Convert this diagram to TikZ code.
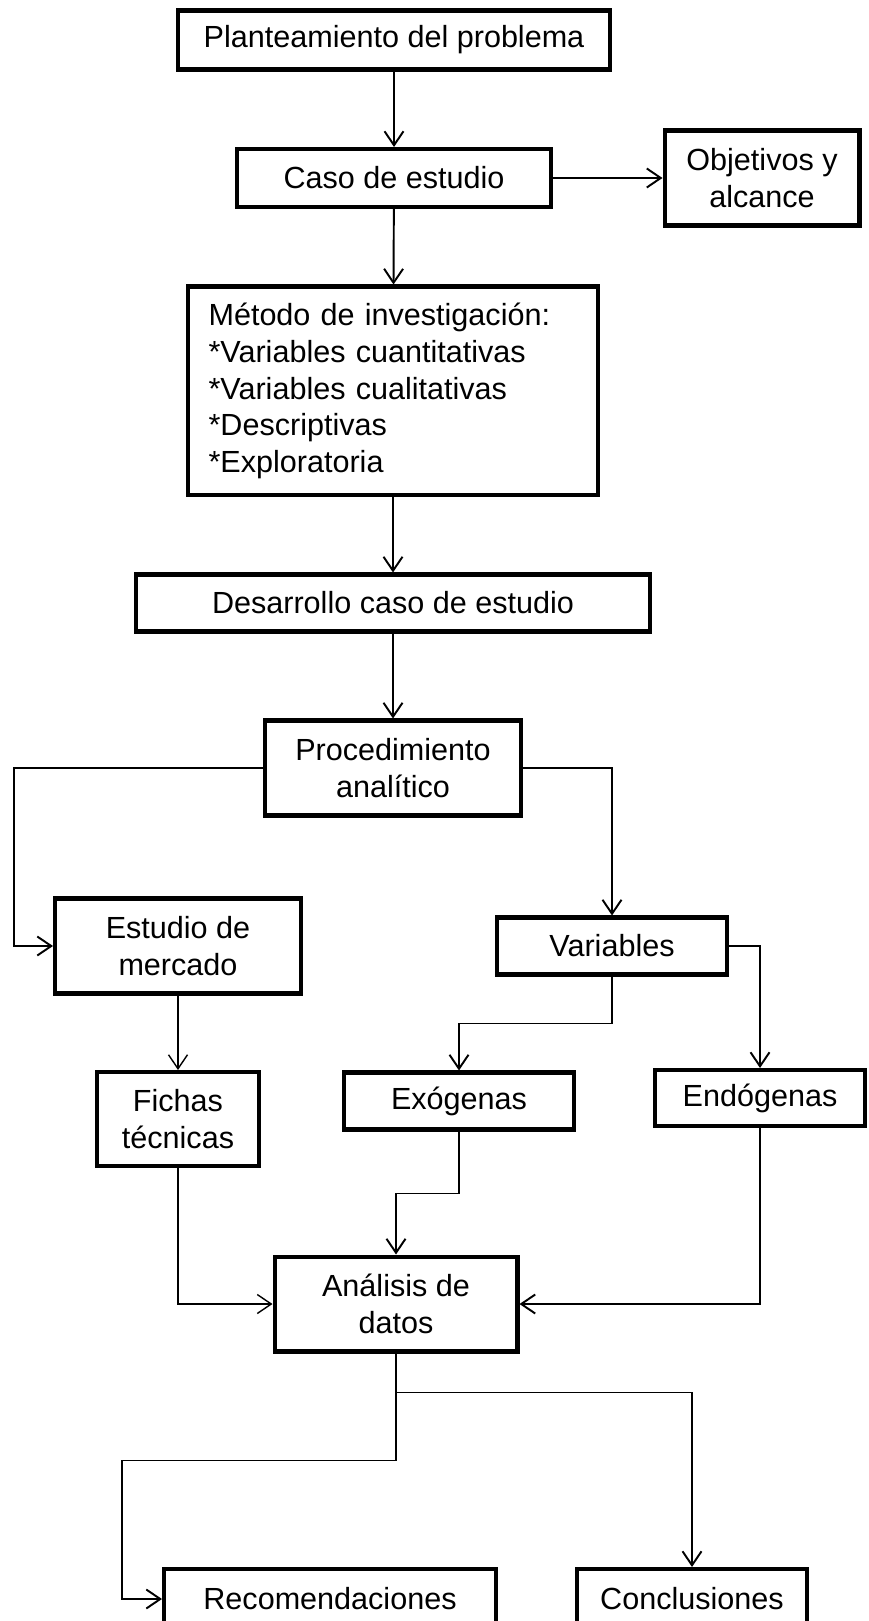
\documentclass[tikz,border=0pt]{standalone}
\usepackage{fontspec}
\setmainfont{Liberation Sans}
\usetikzlibrary{arrows.meta}

\tikzset{
  box/.style={draw, line width=2.3pt, inner sep=0pt, align=center,
    font=\fontsize{17.4pt}{21pt}\selectfont},
  conn/.style={line width=1.1pt, -{Straight Barb[length=0.28cm,width=0.38cm]}},
  thinconn/.style={conn, line width=0.8pt},
}

\begin{document}
\begin{tikzpicture}[x=0.02cm,y=-0.02cm]
\useasboundingbox (0,0) rectangle (868,1621);
\clip (0,0) rectangle (868,1621);
% Column: planteamiento -> procedimiento
\node[box, minimum width=8.66cm, minimum height=1.18cm] (plan) at (394,40) {Planteamiento del problema};
\node[box, minimum width=6.28cm, minimum height=1.16cm] (caso) at (394,178) {Caso de estudio};
\node[box, minimum width=3.9cm, minimum height=1.9cm] (obj) at (762,178) {Objetivos y\\alcance};
\node[box, align=left, text width=7.38cm, inner xsep=0.42cm, minimum height=4.18cm] (metodo) at (393,391)
  {M\'etodo de investigaci\'on:\\{}*Variables cuantitativas\\{}*Variables cualitativas\\{}*Descriptivas\\{}*Exploratoria};
\node[box, minimum width=10.28cm, minimum height=1.14cm] (desarrollo) at (393,603) {Desarrollo caso de estudio};
\node[box, minimum width=5.12cm, minimum height=1.9cm] (proc) at (393,768) {Procedimiento\\anal\'itico};
% Branches
\node[box, minimum width=4.92cm, minimum height=1.9cm] (estudio) at (178,946) {Estudio de\\mercado};
\node[box, minimum width=4.6cm, minimum height=1.14cm] (variables) at (612,946) {Variables};
\node[box, minimum width=3.24cm, minimum height=1.88cm] (fichas) at (178,1119) {Fichas\\t\'ecnicas};
\node[box, minimum width=4.6cm, minimum height=1.14cm] (exo) at (459,1101) {Ex\'ogenas};
\node[box, minimum width=4.2cm, minimum height=1.12cm] (endo) at (760,1098) {End\'ogenas};
% Bottom
\node[box, minimum width=4.86cm, minimum height=1.9cm] (analisis) at (396,1304) {An\'alisis de\\datos};
\node[box, minimum width=6.64cm, minimum height=1.2cm] (recom) at (330,1599) {Recomendaciones};
\node[box, minimum width=4.6cm, minimum height=1.2cm] (concl) at (692,1599) {Conclusiones};
\coordinate (estleft) at (14,850);
\coordinate (recleft) at (122,1530);
% Connectors
\draw[conn] (plan) -- (caso);
\draw[conn] (caso) -- (obj);
\draw[conn] (caso) -- (metodo);
\draw[conn] (metodo) -- (desarrollo);
\draw[conn] (desarrollo) -- (proc);
\draw[conn] (proc.west) -| (estleft) |- (estudio.west);
\draw[conn] (proc.east) -| (variables.north);
\draw[thinconn] (estudio) -- (fichas);
\draw[conn] (variables.south) -- ++(0,47) -| (exo.north);
\draw[conn] (variables.east) -| (endo.north);
\draw[thinconn] (fichas.south) |- (analisis.west);
\draw[conn] (exo.south) -- ++(0,62) -| (analisis.north);
\draw[conn] (endo.south) |- (analisis.east);
\draw[conn] (analisis.south) -- ++(0,39) -| (concl.north);
\draw[conn] (analisis.south) -- ++(0,107) -| (recleft) |- (recom.west);
\end{tikzpicture}
\end{document}
